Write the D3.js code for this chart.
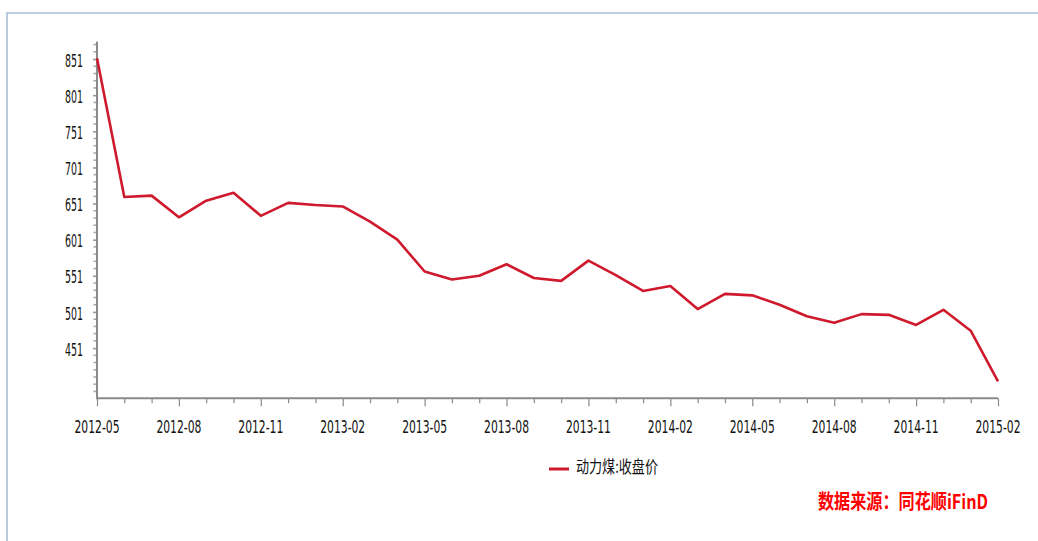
<!DOCTYPE html>
<html>
<head>
<meta charset="utf-8">
<script src="https://cdn.jsdelivr.net/npm/d3@7"></script>
<style>
  body { margin: 0; background: #fff; }
  svg { display: block; }
</style>
</head>
<body>
<div id="chart"></div>
<script>
// months on the x axis
const months = [
    '2012-05', '2012-06', '2012-07', '2012-08', '2012-09', '2012-10', '2012-11', '2012-12',
    '2013-01', '2013-02', '2013-03', '2013-04', '2013-05', '2013-06', '2013-07', '2013-08',
    '2013-09', '2013-10', '2013-11', '2013-12', '2014-01', '2014-02', '2014-03', '2014-04',
    '2014-05', '2014-06', '2014-07', '2014-08', '2014-09', '2014-10', '2014-11', '2014-12',
    '2015-01', '2015-02'
];

// 动力煤 closing price
const closePrice = [
    852, 660, 662, 632, 655, 666, 634, 652,
    649, 647, 626, 601, 557, 546, 551, 567,
    548, 544, 572, 552, 530, 537, 505, 526,
    524, 511, 495, 486, 498, 497, 483, 504,
    475, 405
];

const xLabels = ['2012-05', '2012-08', '2012-11', '2013-02', '2013-05', '2013-08',
    '2013-11', '2014-02', '2014-05', '2014-08', '2014-11', '2015-02'];
const yTicks = [451, 501, 551, 601, 651, 701, 751, 801, 851];
const yRange = [381.5, 875];

const seriesName = '动力煤:收盘价';
const sourceText = '数据来源：同花顺iFinD';

const width = 1038;
const height = 541;
const plotLeft = 97, plotRight = 998, plotTop = 41.7, plotBottom = 398.3;
const lineColor = '#cf1a2e';
const axisColor = '#8a8a8a';
const numFont = '"Liberation Sans Narrow", "DejaVu Sans Condensed", sans-serif';
const cjkFont = '"Noto Sans CJK SC", sans-serif';

const svg = d3.select('#chart')
    .append('svg')
    .attr('width', width)
    .attr('height', height);

svg.append('rect')
    .attr('width', width)
    .attr('height', height)
    .attr('fill', '#fff');

// light blue frame (top and left edges)
svg.append('path')
    .attr('d', `M7,${height}V13H${width}`)
    .attr('fill', 'none')
    .attr('stroke', '#a9bcd5')
    .attr('stroke-width', 1.6);

const x = d3.scalePoint()
    .domain(months)
    .range([plotLeft, plotRight]);

const y = d3.scaleLinear()
    .domain(yRange)
    .range([plotBottom, plotTop]);

// minor y ticks every 10
const minorY = d3.range(391, yRange[1], 10).filter(v => !yTicks.includes(v));
svg.append('g')
    .selectAll('line')
    .data(minorY)
    .enter()
    .append('line')
    .attr('x1', plotLeft - 3.5)
    .attr('x2', plotLeft)
    .attr('y1', d => y(d))
    .attr('y2', d => y(d))
    .attr('stroke', '#a8a8a8')
    .attr('stroke-width', 1.6);

// y axis
const yAxis = svg.append('g')
    .attr('transform', `translate(${plotLeft},0)`)
    .call(d3.axisLeft(y).tickValues(yTicks).tickSize(4).tickPadding(10));

yAxis.select('.domain').remove();
yAxis.selectAll('.tick line')
    .attr('stroke', '#999')
    .attr('stroke-width', 1.6);
yAxis.selectAll('.tick text')
    .attr('fill', '#111')
    .attr('font-family', numFont)
    .attr('font-size', 17)
    .attr('dy', '0.42em')
    .attr('textLength', 18)
    .attr('lengthAdjust', 'spacingAndGlyphs');

// x axis: every month a short tick, labelled months longer
const xAxis = svg.append('g')
    .attr('transform', `translate(0,${plotBottom})`)
    .call(d3.axisBottom(x).tickSize(5).tickFormat(''));

xAxis.select('.domain').remove();
xAxis.selectAll('.tick line')
    .attr('stroke', axisColor)
    .attr('stroke-width', 1.2)
    .attr('y2', d => xLabels.includes(d) ? 8 : 5);

svg.append('g')
    .selectAll('text')
    .data(xLabels)
    .enter()
    .append('text')
    .attr('x', d => x(d))
    .attr('y', 433)
    .attr('text-anchor', 'middle')
    .attr('fill', '#111')
    .attr('font-family', numFont)
    .attr('font-size', 18)
    .attr('textLength', 45)
    .attr('lengthAdjust', 'spacingAndGlyphs')
    .text(d => d);

// axis lines
svg.append('path')
    .attr('d', `M${plotLeft},${plotTop}V${plotBottom}H${plotRight}`)
    .attr('fill', 'none')
    .attr('stroke', axisColor)
    .attr('stroke-width', 2);

// price line
const line = d3.line()
    .x((d, i) => x(months[i]))
    .y(d => y(d));

svg.append('path')
    .datum(closePrice)
    .attr('d', line)
    .attr('fill', 'none')
    .attr('stroke', lineColor)
    .attr('stroke-width', 2.6)
    .attr('stroke-linejoin', 'round');

// legend
svg.append('line')
    .attr('x1', 549)
    .attr('x2', 569)
    .attr('y1', 469)
    .attr('y2', 469)
    .attr('stroke', lineColor)
    .attr('stroke-width', 3);

svg.append('text')
    .attr('x', 576)
    .attr('y', 473)
    .attr('fill', '#111')
    .attr('font-family', cjkFont)
    .attr('font-size', 17)
    .attr('textLength', 82)
    .attr('lengthAdjust', 'spacingAndGlyphs')
    .text(seriesName);

// data source note
svg.append('text')
    .attr('x', 818)
    .attr('y', 509)
    .attr('fill', '#ff0000')
    .attr('font-family', cjkFont)
    .attr('font-weight', 'bold')
    .attr('font-size', 20)
    .attr('textLength', 170)
    .attr('lengthAdjust', 'spacingAndGlyphs')
    .text(sourceText);
</script>
</body>
</html>
